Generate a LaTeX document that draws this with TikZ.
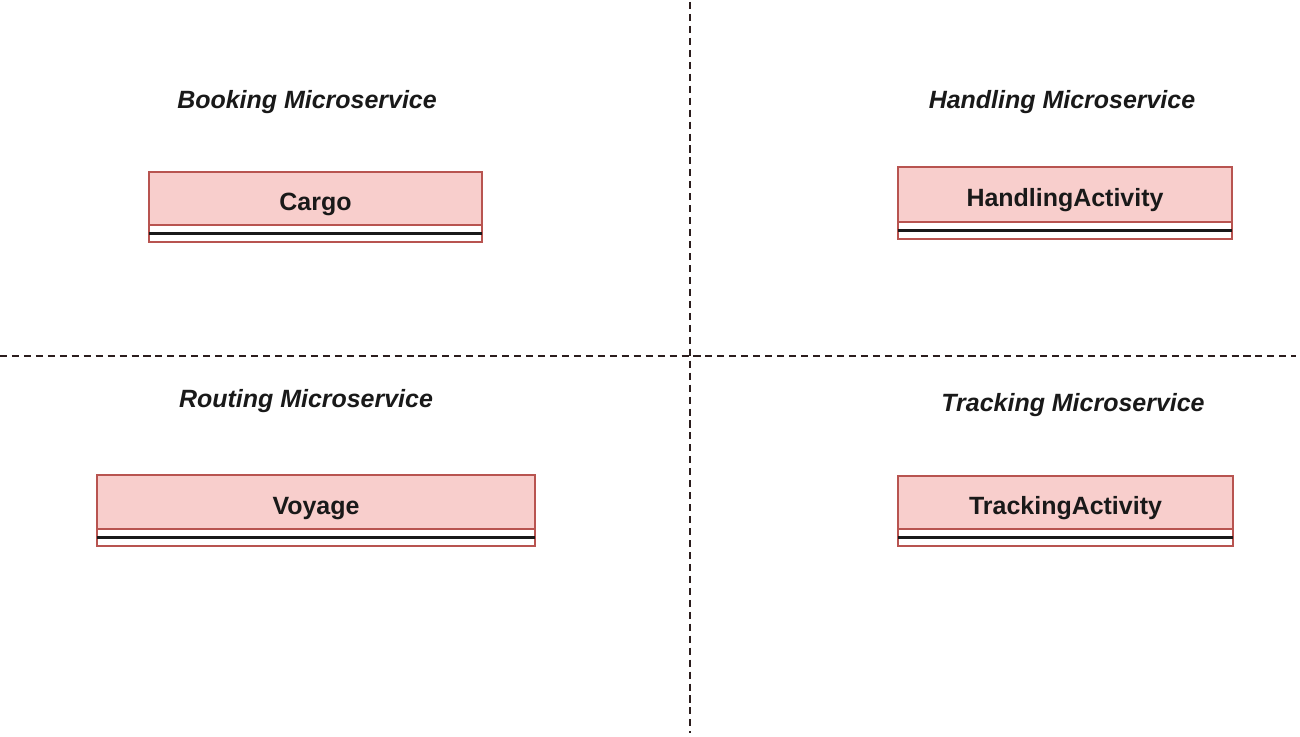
\documentclass[tikz,border=0pt]{standalone}
\usepackage{fontspec}
\setmainfont{Liberation Sans}
\usetikzlibrary{positioning}

\definecolor{headfill}{HTML}{F8CECC}
\definecolor{headline}{HTML}{B85450}
\definecolor{divline}{HTML}{2B1D1D}

\begin{document}
\begin{tikzpicture}[x=0.01cm,y=-0.01cm,
	classhead/.style={rectangle,draw=headline,fill=headfill,line width=0.6pt,inner sep=0pt,outer sep=0pt,minimum height=0.54cm,text height=8.5pt,text depth=1.5pt,font=\fontsize{7.1}{8.5}\selectfont\bfseries,text=black!90},
	classbody/.style={draw=headline,fill=white,line width=0.6pt},
	sepline/.style={draw=black!90,line width=0.6pt},
	title/.style={inner sep=0pt,font=\fontsize{7.1}{8.5}\selectfont\bfseries\itshape,text=black!90},
	divider/.style={draw=divline,line width=0.55pt,dash pattern=on 2pt off 1.4pt}]
		\useasboundingbox (0,0) rectangle (1300,737);

		\coordinate (top)		at (690,2);
		\coordinate (bottom)	at (690,733);
		\coordinate (left)		at (0,356);
		\coordinate (right)		at (1296,356);

		\draw[divider] (top) -- (bottom);
		\draw[divider] (left) -- (right);

		\node[title]	(booking)	at (307,102)	{Booking Microservice};
		\node[title]	(handlingms)	at (1062,102)	{Handling Microservice};
		\node[title]	(routing)	at (306,401)	{Routing Microservice};
		\node[title]	(trackingms)	at (1073,405)	{Tracking Microservice};

		\node[classhead,minimum width=3.33cm,minimum height=0.53cm]	(cargo)		at (315.5,198.5)	{Cargo};
		\node[classhead,minimum width=3.34cm,minimum height=0.55cm]	(handling)	at (1065,194.5)		{HandlingActivity};
		\node[classhead,minimum width=4.38cm]							(voyage)	at (316,502)		{Voyage};
		\node[classhead,minimum width=3.35cm,minimum height=0.53cm]	(tracking)	at (1065.5,502.5)	{TrackingActivity};

		\foreach \n in {cargo,handling,voyage,tracking} {
			\draw[classbody] (\n.south west) rectangle ([yshift=-0.17cm]\n.south east);
			\draw[sepline] ([yshift=-0.085cm]\n.south west) -- ([yshift=-0.085cm]\n.south east);
		}
	\end{tikzpicture}
\end{document}
